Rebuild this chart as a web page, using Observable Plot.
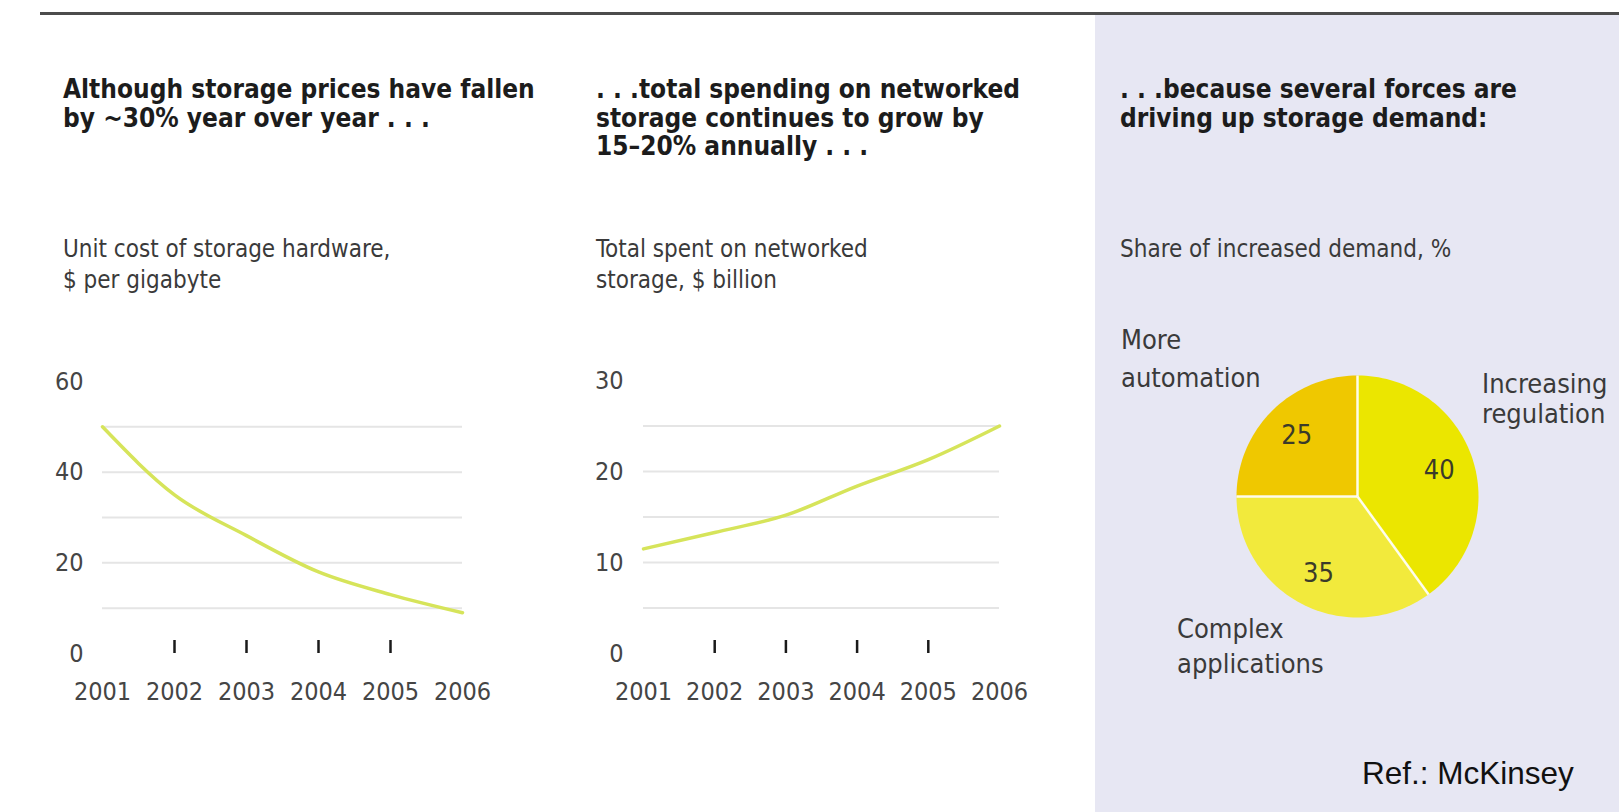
<!DOCTYPE html>
<html>
<head>
<meta charset="utf-8">
<script src="https://cdn.jsdelivr.net/npm/d3@7"></script>
<script src="https://cdn.jsdelivr.net/npm/@observablehq/plot@0.6"></script>
<style>
  html, body { margin: 0; padding: 0; background: #ffffff; }
  #root { position: relative; width: 1619px; height: 812px; overflow: hidden; background: #ffffff;
          font-family: "DejaVu Sans Condensed", "DejaVu Sans", sans-serif; font-stretch: condensed; }
  .abs { position: absolute; white-space: nowrap; }
  .rule { left: 40px; top: 12px; width: 1579px; height: 3px; background: #4c4c4c; }
  .panel { left: 1095px; top: 15px; width: 524px; height: 797px; background: #e7e7f3; }
  .title { font-weight: bold; font-size: 26px; line-height: 28.5px; color: #1c1c1c; }
  .sub { font-size: 24px; line-height: 31px; color: #3a3a3a; }
  .lab { font-size: 27px; color: #3a3a3a; }
  .ref { font-family: "Liberation Sans", Arial, sans-serif; font-size: 31.5px; color: #111; }
  .chart { position: absolute; }
  .chart svg { overflow: visible; }
</style>
</head>
<body>
<div id="root">
  <div class="abs rule"></div>
  <div class="abs panel"></div>

  <div class="abs title" style="left:63px; top:75px;">Although storage prices have fallen<br>by ~30% year over year . . .</div>
  <div class="abs title" style="left:596px; top:75px;">. . .total spending on networked<br>storage continues to grow by<br>15–20% annually . . .</div>
  <div class="abs title" style="left:1120px; top:75px;">. . .because several forces are<br>driving up storage demand:</div>

  <div class="abs sub" style="left:63px; top:234px;">Unit cost of storage hardware,<br>$ per gigabyte</div>
  <div class="abs sub" style="left:596px; top:234px;">Total spent on networked<br>storage, $ billion</div>
  <div class="abs sub" style="left:1120px; top:234px;">Share of increased demand, %</div>

  <div class="abs lab" id="lab0" style="left:1482px; top:369px; line-height:30px;"></div>
  <div class="abs lab" id="lab1" style="left:1177px; top:611px; line-height:35px;"></div>
  <div class="abs lab" id="lab2" style="left:1121px; top:321px; line-height:38px;"></div>

  <div class="abs ref" style="left:1362px; top:755px;">Ref.: McKinsey</div>

  <div class="chart" id="c1" style="left:40px; top:360px;"></div>
  <div class="chart" id="c2" style="left:580px; top:360px;"></div>
  <div class="chart" id="c3" style="left:1095px; top:300px;"></div>
</div>
<script>
// ---------- data ----------
const years = [2001, 2002, 2003, 2004, 2005, 2006];
const tickYears = [2002, 2003, 2004, 2005];

const unitCost = [50, 35, 26, 18, 13, 9];          // $ per gigabyte
const costAxisTicks = [0, 20, 40, 60];
const costGridTicks = [10, 20, 30, 40, 50];

const spending = [11.5, 13.3, 15.2, 18.4, 21.3, 25]; // $ billion
const spendAxisTicks = [0, 10, 20, 30];
const spendGridTicks = [5, 10, 15, 20, 25];

const demandCategories = ["Increasing regulation", "Complex applications", "More automation"];
const demandShares = [40, 35, 25];
const demandLabelLines = [["Increasing", "regulation"], ["Complex", "applications"], ["More", "automation"]];

// ---------- styles ----------
const lineColor = "#d6e45a";
const gridColor = "#e5e5e5";
const sliceColors = ["#ebe600", "#f2ea3c", "#efc800"];
const axisFont = '"DejaVu Sans Condensed", "DejaVu Sans", sans-serif';

function lineChart(el, values, yMax, axisTicks, gridTicks, m) {
  const width = 460, height = 350;
  const data = years.map((year, i) => ({year, value: values[i]}));
  const tickLen = 13 * yMax / (height - m.top - m.bottom);
  const chart = Plot.plot({
    width, height,
    marginLeft: m.left, marginRight: m.right, marginTop: m.top, marginBottom: m.bottom,
    style: {background: "transparent", color: "#454545", fontFamily: axisFont, fontSize: "25px", overflow: "visible"},
    x: {type: "linear", domain: [2001, 2006], label: null},
    y: {domain: [0, yMax], label: null},
    marks: [
      Plot.gridY(gridTicks, {stroke: gridColor, strokeOpacity: 1, strokeWidth: 2}),
      Plot.ruleX(tickYears, {y1: 0, y2: tickLen, stroke: "#1a1a1a", strokeWidth: 2.5}),
      Plot.line(data, {x: "year", y: "value", curve: "monotone-x", stroke: lineColor, strokeWidth: 3.5}),
      Plot.axisY(axisTicks, {tickSize: 0, tickPadding: m.left - 43, fontSize: 25, label: null}),
      Plot.axisX(years, {tickSize: 0, tickPadding: 29, fontSize: 25, label: null, tickFormat: d => String(d)})
    ]
  });
  document.getElementById(el).appendChild(chart);
}

lineChart("c1", unitCost, 60, costAxisTicks, costGridTicks, {left: 62, right: 38, top: 21, bottom: 57});
lineChart("c2", spending, 30, spendAxisTicks, spendGridTicks, {left: 63, right: 41, top: 20, bottom: 57});

// ---------- pie ----------
const pieData = demandCategories.map((label, i) => ({label, value: demandShares[i]}));
const arcs = d3.pie().sort(null).value(d => d.value)(pieData);
const slicePoints = arcs.flatMap(a => {
  const n = Math.max(2, Math.ceil((a.endAngle - a.startAngle) / (2 * Math.PI) * 180));
  const pts = [{label: a.data.label, x: 0, y: 0}];
  for (let k = 0; k <= n; ++k) {
    const t = a.startAngle + (a.endAngle - a.startAngle) * k / n;
    pts.push({label: a.data.label, x: Math.sin(t), y: Math.cos(t)});
  }
  pts.push({label: a.data.label, x: 0, y: 0});
  return pts;
});
const cx = 262, cy = 196, R = 121;
const pie = Plot.plot({
  width: 524, height: 400,
  style: {background: "transparent", fontFamily: axisFont, overflow: "visible"},
  x: {domain: [-1, 1], range: [cx - R, cx + R], axis: null},
  y: {domain: [-1, 1], range: [cy + R, cy - R], axis: null},
  color: {domain: demandCategories, range: sliceColors},
  marks: [
    Plot.line(slicePoints, {x: "x", y: "y", z: "label", fill: "label", stroke: "none", curve: "linear"}),
    Plot.link(arcs, {x1: 0, y1: 0, x2: d => Math.sin(d.startAngle), y2: d => Math.cos(d.startAngle),
                     stroke: "#ffffff", strokeWidth: 2.5, strokeOpacity: 0.9}),
    Plot.text(arcs, {
      x: d => 0.71 * Math.sin((d.startAngle + d.endAngle) / 2),
      y: d => 0.71 * Math.cos((d.startAngle + d.endAngle) / 2),
      text: d => String(d.data.value), fontSize: 27, fill: "#3b3b2a"
    })
  ]
});
document.getElementById("c3").appendChild(pie);

demandLabelLines.forEach((lines, i) => {
  document.getElementById("lab" + i).innerHTML = lines.join("<br>");
});
</script>
</body>
</html>
